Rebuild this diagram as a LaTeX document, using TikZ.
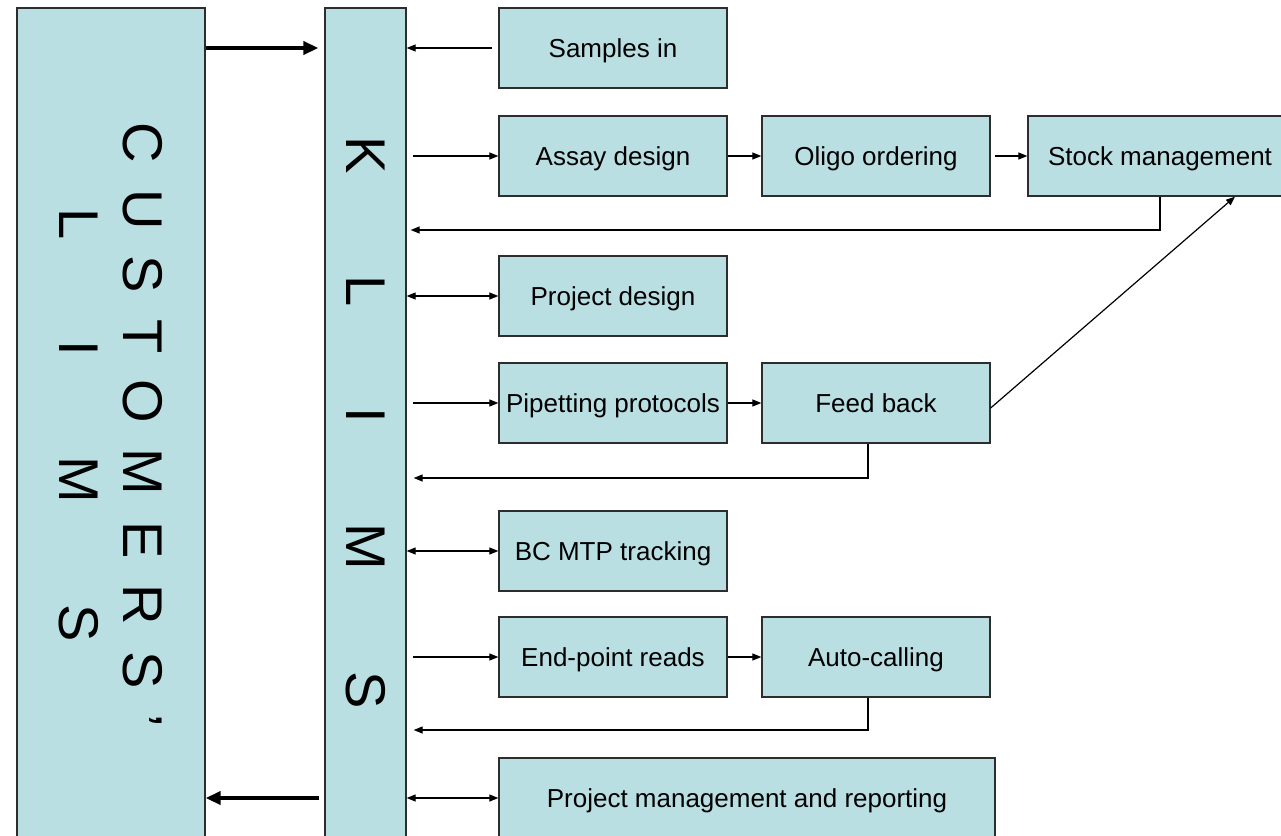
\documentclass[tikz,border=0pt]{standalone}
\usepackage{fontspec}
\setmainfont{Liberation Sans}
\usetikzlibrary{arrows.meta}

\definecolor{boxfill}{RGB}{185,223,227}
\definecolor{edge}{RGB}{45,45,45}

\begin{document}
\begin{tikzpicture}[x=1pt,y=-1pt,
    task/.style={draw=edge,fill=boxfill,line width=1.3pt,minimum width=228pt,
      minimum height=80pt,inner sep=0pt,text height=18.6pt,text depth=0pt,
      font=\fontsize{26}{30}\selectfont},
    column/.style={draw=edge,fill=boxfill,line width=1.3pt,minimum height=834pt,inner sep=0pt},
    bigtext/.style={font=\fontsize{56}{64}\selectfont,rotate=-90,align=center,inner sep=0pt},
    flow/.style={line width=1.2pt,-{Triangle[length=9pt,width=7pt]}},
    twoway/.style={line width=1.2pt,{Triangle[length=9pt,width=7pt]}-{Triangle[length=9pt,width=7pt]}},
    bigflow/.style={line width=4pt,-{Triangle[length=15pt,width=13pt]}}]
    \useasboundingbox (0,0) rectangle (1281,835);
    \clip (0,0) rectangle (1281,835);

    % the two systems
    \node[column, minimum width=188pt] (customers) at (111,425) {};
    \node[bigtext] (custname) at (111,425)
      {\spaceskip=26pt C U S T O M E R S ’\\{\spaceskip=101pt L I M S}};
    \node[column, minimum width=81pt] (klims) at (365.5,425) {};
    \node[bigtext] (klimsname) at (365.5,423) {\spaceskip=101pt K L I M S};

    % tasks
    \node[task] (samples) at (613,48) {Samples in};
    \node[task] (assay) at (613,156) {Assay design};
    \node[task] (oligo) at (876,156) {Oligo ordering};
    \node[task, minimum width=264pt] (stock) at (1160,156) {Stock management};
    \node[task] (pdesign) at (613,296) {Project design};
    \node[task] (pipetting) at (613,403) {Pipetting protocols};
    \node[task] (feedback) at (876,403) {Feed back};
    \node[task] (bcmtp) at (613,551) {BC MTP tracking};
    \node[task] (endpoint) at (613,657) {End-point reads};
    \node[task] (autocall) at (876,657) {Auto-calling};
    \node[task, minimum width=496pt] (report) at (747,798) {Project management and reporting};

    \coordinate (back1) at (0,230);
    \coordinate (back2) at (0,478);
    \coordinate (back3) at (0,730);

    % between the systems
    \draw[bigflow, shorten >=6pt] (customers.east |- samples) -- (klims.west |- samples);
    \draw[bigflow, shorten <=5pt] (klims.west |- report) -- (customers.east |- report);

    % tasks and KLIMS
    \draw[flow, shorten <=6pt] (samples) -- (klims.east |- samples);
    \draw[flow, shorten <=6pt] (klims.east |- assay) -- (assay);
    \draw[flow] (assay) -- (oligo);
    \draw[flow, shorten <=4pt] (oligo) -- (stock);
    \draw[flow, shorten >=4pt] (stock.south) |- (klims.east |- back1);
    \draw[twoway] (klims.east |- pdesign) -- (pdesign);
    \draw[flow, shorten <=6pt] (klims.east |- pipetting) -- (pipetting);
    \draw[flow] (pipetting) -- (feedback);
    \draw[flow] ([yshift=-5pt]feedback.east) -- ([xshift=75pt]stock.south);
    \draw[flow, shorten >=7pt] ([xshift=-8pt]feedback.south) |- (klims.east |- back2);
    \draw[twoway] (klims.east |- bcmtp) -- (bcmtp);
    \draw[flow, shorten <=6pt] (klims.east |- endpoint) -- (endpoint);
    \draw[flow] (endpoint) -- (autocall);
    \draw[flow, shorten >=7pt] ([xshift=-8pt]autocall.south) |- (klims.east |- back3);
    \draw[twoway] (klims.east |- report) -- (report);
\end{tikzpicture}
\end{document}
